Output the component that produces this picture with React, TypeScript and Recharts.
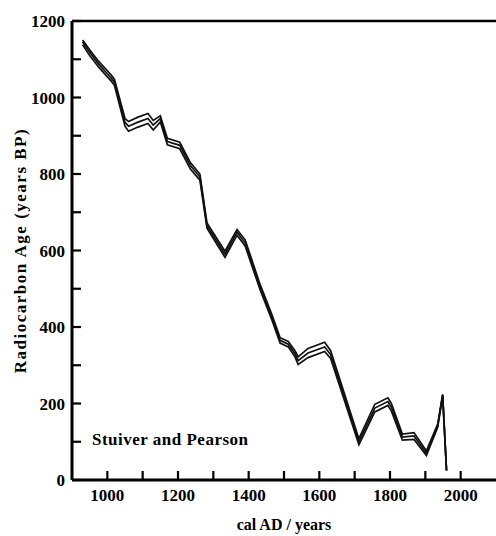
import { LineChart, Line, XAxis, YAxis, ReferenceLine } from 'recharts';

// cal AD years and radiocarbon ages
const years = [
  930, 950, 975, 1000, 1010, 1020, 1050, 1060, 1085, 1115, 1130, 1150, 1170, 1205,
  1235, 1262, 1282, 1333, 1367, 1390, 1432, 1466, 1489, 1512, 1531, 1540, 1568,
  1615, 1632, 1712, 1757, 1794, 1804, 1835, 1868, 1903, 1935, 1949, 1960,
];
const midAge = [
  1145, 1118, 1088, 1062, 1052, 1040, 935, 925, 935, 945, 928, 945, 885, 875,
  822, 792, 665, 590, 648, 620, 505, 425, 365, 355, 330, 312, 332,
  348, 328, 100, 188, 205, 190, 112, 115, 70, 142, 222, 25,
];
const upperAge = [
  1150, 1125, 1095, 1070, 1060, 1048, 945, 937, 948, 958, 940, 952, 893, 883,
  830, 800, 672, 598, 655, 628, 512, 432, 372, 362, 338, 322, 344,
  360, 338, 108, 198, 215, 200, 120, 124, 76, 146, 224, 25,
];
const lowerAge = [
  1138, 1110, 1080, 1054, 1044, 1032, 925, 912, 922, 932, 915, 936, 876, 866,
  813, 784, 658, 582, 640, 612, 498, 418, 358, 348, 322, 302, 320,
  336, 318, 92, 178, 195, 180, 104, 106, 64, 138, 220, 25,
];

const xTicks = [1000, 1100, 1200, 1300, 1400, 1500, 1600, 1700, 1800, 1900, 2000];
const yTicks = [0, 100, 200, 300, 400, 500, 600, 700, 800, 900, 1000, 1100, 1200];

const data = years.map((y, i) => ({
  year: y,
  mid: midAge[i],
  upper: upperAge[i],
  lower: lowerAge[i],
}));

const font = '"Liberation Serif", "DejaVu Serif", serif';
const X_MARGIN = 8;
const Y_MARGIN = 7;
const TICK_LEN = 9;

// inward tick mark, label only on every 200
function XTick(props: any) {
  const { x, y, payload } = props;
  const v = payload.value;
  const axisY = y - X_MARGIN;
  return (
    <g>
      <path d={`M${x},${axisY}V${axisY - TICK_LEN}`} stroke="#000" strokeWidth={2.2} />
      {v % 200 === 0 && (
        <text x={x} y={y + 13} textAnchor="middle" fontFamily={font} fontWeight={700} fontSize={17} fill="#000">
          {v}
        </text>
      )}
    </g>
  );
}

function YTick(props: any) {
  const { x, y, payload } = props;
  const v = payload.value;
  const axisX = x + Y_MARGIN;
  return (
    <g>
      <path d={`M${axisX},${y}H${axisX + TICK_LEN}`} stroke="#000" strokeWidth={2.2} />
      {v % 200 === 0 && (
        <text x={x} y={y + 6} textAnchor="end" fontFamily={font} fontWeight={700} fontSize={17} fill="#000">
          {v}
        </text>
      )}
    </g>
  );
}

export default function App() {
  return (
    <div style={{ position: 'absolute', left: 0, top: 0, width: 496, height: 536, background: '#fff' }}>
      <LineChart width={496} height={536} data={data} margin={{ top: 21, right: 0, left: 0, bottom: 0 }}>
        <XAxis
          dataKey="year"
          type="number"
          domain={[900, 2100]}
          ticks={xTicks}
          interval={0}
          height={56}
          axisLine={{ stroke: '#000', strokeWidth: 3 }}
          tickLine={false}
          tickSize={0}
          tickMargin={X_MARGIN}
          tick={<XTick />}
          allowDataOverflow
          label={{
            value: 'cal  AD / years',
            position: 'insideBottom',
            offset: 6,
            style: { fill: '#000', fontFamily: font, fontWeight: 700, fontSize: 16 },
          }}
        />
        <YAxis
          type="number"
          domain={[0, 1200]}
          ticks={yTicks}
          interval={0}
          width={72}
          axisLine={{ stroke: '#000', strokeWidth: 3 }}
          tickLine={false}
          tickSize={0}
          tickMargin={Y_MARGIN}
          tick={<YTick />}
          allowDataOverflow
          label={{
            value: 'Radiocarbon Age (years BP)',
            angle: -90,
            position: 'insideLeft',
            offset: 20,
            style: {
              textAnchor: 'middle',
              fill: '#000',
              fontFamily: font,
              fontWeight: 700,
              fontSize: 17,
              letterSpacing: 1.5,
            },
          }}
        />
        <ReferenceLine y={1200} stroke="#000" strokeWidth={2.5} />
        <Line type="linear" dataKey="upper" stroke="#111" strokeWidth={1.7} dot={false} isAnimationActive={false} />
        <Line type="linear" dataKey="mid" stroke="#111" strokeWidth={1.7} dot={false} isAnimationActive={false} />
        <Line type="linear" dataKey="lower" stroke="#111" strokeWidth={1.7} dot={false} isAnimationActive={false} />
      </LineChart>
      <div
        style={{
          position: 'absolute',
          left: 92,
          top: 430,
          fontFamily: font,
          fontWeight: 700,
          fontSize: 17,
          letterSpacing: 0.5,
          color: '#000',
        }}
      >
        Stuiver and Pearson
      </div>
    </div>
  );
}
